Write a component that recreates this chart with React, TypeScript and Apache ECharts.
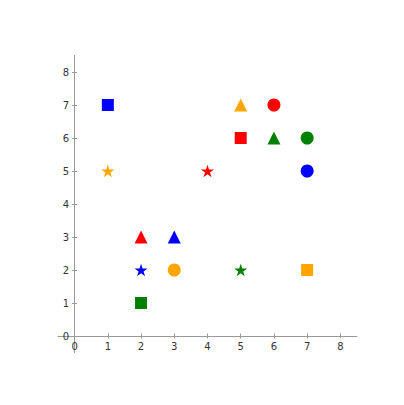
import React, { useEffect, useRef } from "react";
import * as echarts from "echarts";

// [x, y, color]
const squares: [number, number, string][] = [
  [1, 7, "#0000ff"],
  [5, 6, "#ff0000"],
  [7, 2, "#ffa500"],
  [2, 1, "#008000"],
];
const circles: [number, number, string][] = [
  [6, 7, "#ff0000"],
  [7, 6, "#008000"],
  [7, 5, "#0000ff"],
  [3, 2, "#ffa500"],
];
const triangles: [number, number, string][] = [
  [5, 7, "#ffa500"],
  [6, 6, "#008000"],
  [2, 3, "#ff0000"],
  [3, 3, "#0000ff"],
];
const stars: [number, number, string][] = [
  [1, 5, "#ffa500"],
  [4, 5, "#ff0000"],
  [2, 2, "#0000ff"],
  [5, 2, "#008000"],
];
const ticks = [0, 1, 2, 3, 4, 5, 6, 7, 8];

function starPath(): string {
  const pts: string[] = [];
  for (let i = 0; i < 10; i++) {
    const r = i % 2 === 0 ? 1 : 0.382;
    const a = (Math.PI / 2) + (i * Math.PI) / 5;
    const x = r * Math.cos(a);
    const y = -r * Math.sin(a);
    pts.push((i === 0 ? "M" : "L") + x.toFixed(4) + " " + y.toFixed(4));
  }
  return "path://" + pts.join(" ") + " Z";
}

export default function App() {
  const ref = useRef<HTMLDivElement>(null);
  useEffect(() => {
    if (!ref.current) return;
    const chart = echarts.init(ref.current, null, { renderer: "svg" });
    const mk = (d: [number, number, string][], symbol: string, size: number, keep = false) => ({
      type: "scatter",
      symbol,
      symbolSize: size,
      symbolKeepAspect: keep,
      xAxisIndex: 0,
      yAxisIndex: 0,
      itemStyle: { opacity: 1 },
      data: d.map(([x, y, c]) => ({ value: [x, y], itemStyle: { color: c, opacity: 1 } })),
    });
    const axisCommon = {
      type: "value",
      min: -0.5,
      max: 8.5,
      interval: 1,
      splitLine: { show: false },
      axisTick: { length: 2.5, lineStyle: { color: "#999" }, customValues: ticks },
    };
    const mainLine = { onZero: true, lineStyle: { color: "#999", width: 1 } };
    const label = {
      customValues: ticks,
      color: "#333",
      fontSize: 10,
      fontFamily: "DejaVu Sans",
    };
    chart.setOption({
      animation: false,
      grid: { left: 58, right: 47, top: 55.5, bottom: 52.5, containLabel: false },
      xAxis: [
        { ...axisCommon, position: "bottom", axisLine: mainLine, axisLabel: { ...label, margin: -11.5 } },
        {
          ...axisCommon,
          position: "top",
          axisLine: { show: false, onZero: true },
          axisLabel: { show: false },
        },
      ],
      yAxis: [
        { ...axisCommon, position: "left", axisLine: mainLine, axisLabel: { ...label, margin: -11 } },
        {
          ...axisCommon,
          position: "right",
          axisLine: { show: false, onZero: true },
          axisLabel: { show: false },
        },
      ],
      series: [
        mk(squares, "rect", 12),
        mk(circles, "circle", 13),
        mk(triangles, "triangle", 13),
        mk(stars, starPath(), 13, true),
      ],
    });
    return () => chart.dispose();
  }, []);
  return (
    <div
      ref={ref}
      style={{ position: "fixed", left: 0, top: 0, width: 404, height: 405, background: "#fff" }}
    />
  );
}
